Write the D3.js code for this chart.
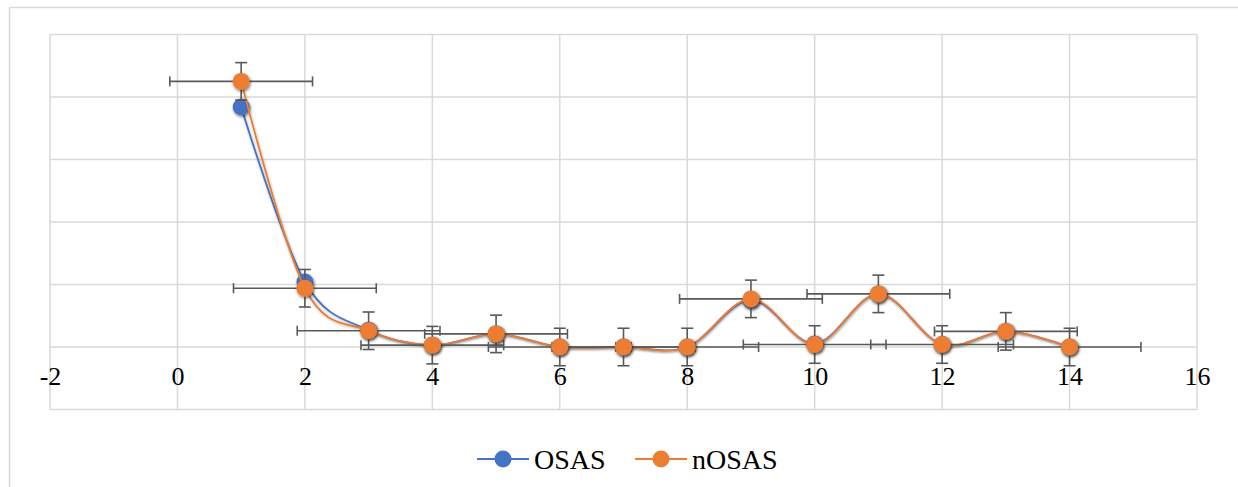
<!DOCTYPE html>
<html>
<head>
<meta charset="utf-8">
<script src="https://cdn.jsdelivr.net/npm/d3@7"></script>
<style>
  html, body { margin: 0; padding: 0; background: #fff; }
  svg { display: block; }
  text { font-family: "Liberation Serif", "Times New Roman", serif; fill: #000; }
</style>
</head>
<body>
<svg id="chart" width="1238" height="487"></svg>
<script>
// ---- data ----
const xValues = [1, 2, 3, 4, 5, 6, 7, 8, 9, 10, 11, 12, 13, 14];
const osasValues = [3.84, 1.04, 0.27, 0.03, 0.21, 0.0, 0.0, 0.0, 0.75, 0.05, 0.85, 0.04, 0.25, 0.0];
const nosasValues = [4.25, 0.94, 0.26, 0.03, 0.21, 0.0, 0.0, 0.0, 0.77, 0.04, 0.85, 0.04, 0.25, 0.0];
const nosasXErr = [1.12, 1.12, 1.12, 1.12, 1.12, 1.12, 1.12, 1.12, 1.12, 1.12, 1.12, 1.12, 1.12, 1.12];
const nosasYErr = [0.3, 0.3, 0.3, 0.3, 0.3, 0.3, 0.3, 0.3, 0.3, 0.3, 0.3, 0.3, 0.3, 0.3];
const xTickValues = [-2, 0, 2, 4, 6, 8, 10, 12, 14, 16];
const yTickValues = [-1, 0, 1, 2, 3, 4, 5];
const seriesNames = ["OSAS", "nOSAS"];
const seriesColors = ["#4472C4", "#ED7D31"];

// ---- layout ----
const serif = '"Liberation Serif", "Times New Roman", serif';
const svg = d3.select("#chart");
const x = d3.scaleLinear().domain([-2, 16]).range([50, 1197]);
const y = d3.scaleLinear().domain([-1, 5]).range([409.5, 34.5]);

const defs = svg.append("defs");
const f = defs.append("filter").attr("id", "shadow")
  .attr("x", "-60%").attr("y", "-60%").attr("width", "220%").attr("height", "220%");
f.append("feDropShadow").attr("dx", 1).attr("dy", 1.5).attr("stdDeviation", 1.8)
  .attr("flood-color", "#000").attr("flood-opacity", 0.55);
const fl = defs.append("filter").attr("id", "lshadow")
  .attr("x", "-10%").attr("y", "-10%").attr("width", "120%").attr("height", "120%");
fl.append("feDropShadow").attr("dx", 0.5).attr("dy", 1).attr("stdDeviation", 1)
  .attr("flood-color", "#000").attr("flood-opacity", 0.3);

// outer chart border
svg.append("rect").attr("x", 9.5).attr("y", 7.5).attr("width", 1260).attr("height", 520)
  .attr("fill", "none").attr("stroke", "#d9d9d9").attr("stroke-width", 1.5);

// gridlines
const grid = svg.append("g");
grid.selectAll("line.h").data(yTickValues).join("line")
  .attr("x1", x(-2)).attr("x2", x(16))
  .attr("y1", d => y(d)).attr("y2", d => y(d))
  .attr("stroke", "#d9d9d9").attr("stroke-width", 1.5);
grid.selectAll("line.v").data(xTickValues).join("line")
  .attr("y1", y(-1)).attr("y2", y(5))
  .attr("x1", d => x(d)).attr("x2", d => x(d))
  .attr("stroke", "#d9d9d9").attr("stroke-width", 1.5);

// x axis at y = 0 (labels only)
const xAxis = d3.axisBottom(x).tickValues(xTickValues).tickSize(0).tickPadding(20)
  .tickFormat(d => d < 0 ? "-" + Math.abs(d) : String(d));
const gx = svg.append("g").attr("transform", `translate(0,${y(0)})`).call(xAxis);
gx.attr("font-family", null).attr("font-size", null);
gx.select(".domain").remove();
gx.selectAll("text").style("font-size", "26px").style("font-family", serif).attr("fill", "#000");

const line = d3.line().x(d => x(d[0])).y(d => y(d[1])).curve(d3.curveCardinal.tension(0));

const osasPts = xValues.map((v, i) => [v, osasValues[i]]);
const nosasPts = xValues.map((v, i) => [v, nosasValues[i]]);

// OSAS
svg.append("path").datum(osasPts).attr("d", line)
  .attr("fill", "none").attr("stroke", seriesColors[0]).attr("stroke-width", 1.8)
  .attr("filter", "url(#lshadow)");
svg.append("g").selectAll("circle").data(osasPts).join("circle")
  .attr("cx", d => x(d[0])).attr("cy", d => y(d[1])).attr("r", 8.5)
  .attr("fill", seriesColors[0]).attr("filter", "url(#shadow)");

// nOSAS
svg.append("path").datum(nosasPts).attr("d", line)
  .attr("fill", "none").attr("stroke", seriesColors[1]).attr("stroke-width", 1.8)
  .attr("filter", "url(#lshadow)");

// error bars for nOSAS
const eb = svg.append("g").attr("stroke", "#595959").attr("stroke-width", 1.6).attr("fill", "none");
xValues.forEach((v, i) => {
  const cx = x(v), cy = y(nosasValues[i]);
  const xl = x(v - nosasXErr[i]), xr = x(v + nosasXErr[i]);
  const yt = y(nosasValues[i] + nosasYErr[i]), yb = y(nosasValues[i] - nosasYErr[i]);
  eb.append("line").attr("x1", xl).attr("x2", xr).attr("y1", cy).attr("y2", cy);
  eb.append("line").attr("x1", xl).attr("x2", xl).attr("y1", cy - 5).attr("y2", cy + 5);
  eb.append("line").attr("x1", xr).attr("x2", xr).attr("y1", cy - 5).attr("y2", cy + 5);
  eb.append("line").attr("x1", cx).attr("x2", cx).attr("y1", yt).attr("y2", yb);
  eb.append("line").attr("x1", cx - 6).attr("x2", cx + 6).attr("y1", yt).attr("y2", yt);
  eb.append("line").attr("x1", cx - 6).attr("x2", cx + 6).attr("y1", yb).attr("y2", yb);
});

svg.append("g").selectAll("circle").data(nosasPts).join("circle")
  .attr("cx", d => x(d[0])).attr("cy", d => y(d[1])).attr("r", 8.5)
  .attr("fill", seriesColors[1]).attr("filter", "url(#shadow)");

// legend
const legendItems = [
  { name: seriesNames[0], color: seriesColors[0], x0: 477 },
  { name: seriesNames[1], color: seriesColors[1], x0: 635 }
];
const lg = svg.append("g");
legendItems.forEach(it => {
  const ly = 459;
  lg.append("line").attr("x1", it.x0).attr("x2", it.x0 + 52).attr("y1", ly).attr("y2", ly)
    .attr("stroke", it.color).attr("stroke-width", 2);
  lg.append("circle").attr("cx", it.x0 + 26).attr("cy", ly).attr("r", 8.5).attr("fill", it.color);
  lg.append("text").attr("x", it.x0 + 57).attr("y", ly + 9.5)
    .style("font-size", "28px").style("font-family", serif).text(it.name);
});
</script>
</body>
</html>
